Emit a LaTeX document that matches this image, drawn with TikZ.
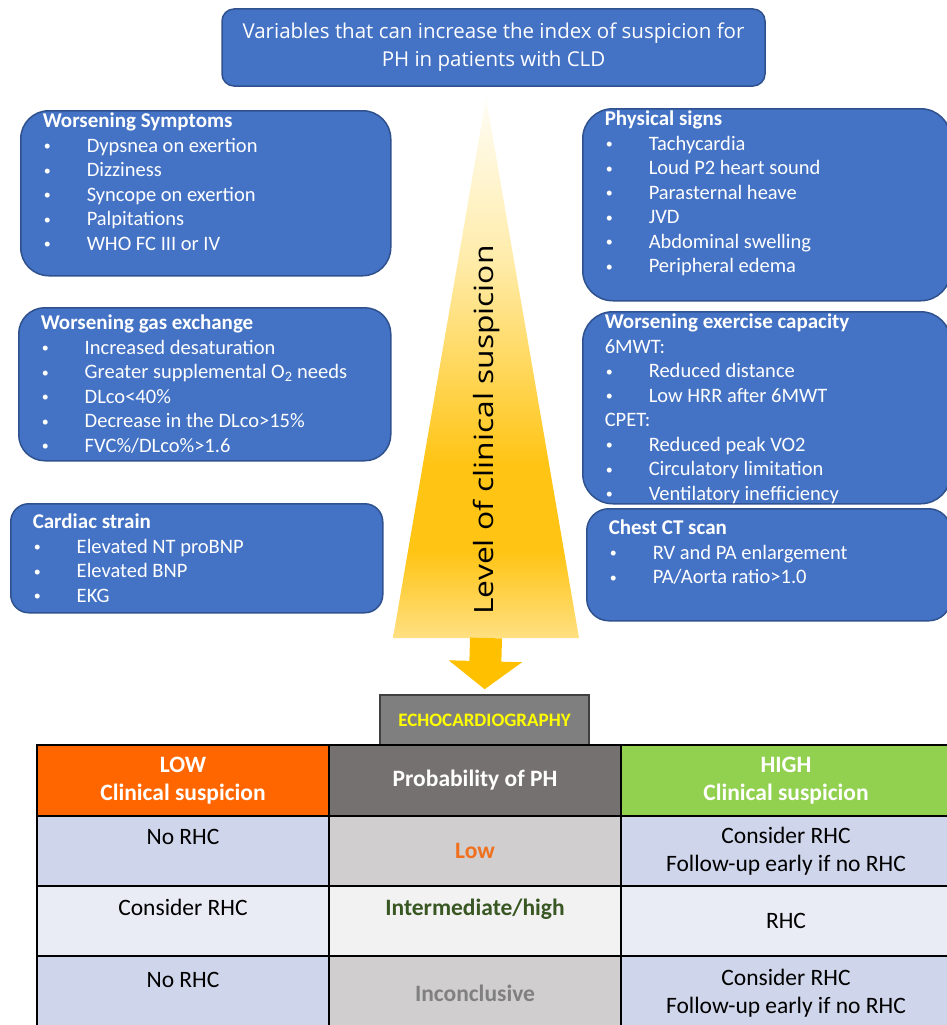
\documentclass[tikz,border=0pt]{standalone}
\usepackage{fontspec}
\setmainfont{Carlito}
\newfontfamily\headfont{Open Sans}
\newfontfamily\levelfont{Open Sans}[FakeStretch=1.2]
\usetikzlibrary{arrows.meta, positioning, calc}

\definecolor{boxblue}{RGB}{68, 114, 196}
\definecolor{boxedge}{RGB}{47, 82, 143}
\definecolor{lowor}{RGB}{255, 102, 0}
\definecolor{probgray}{RGB}{118, 113, 113}
\definecolor{highgreen}{RGB}{146, 208, 80}
\definecolor{rowblue}{RGB}{207, 213, 234}
\definecolor{rowpale}{RGB}{233, 235, 245}
\definecolor{rowgray}{RGB}{208, 206, 206}
\definecolor{rowwhite}{RGB}{242, 242, 242}
\definecolor{echogray}{RGB}{127, 127, 127}
\definecolor{echoedge}{RGB}{64, 64, 64}
\definecolor{echotext}{RGB}{255, 255, 0}
\definecolor{lowtext}{RGB}{240, 112, 30}
\definecolor{midtext}{RGB}{56, 87, 35}
\definecolor{inctext}{RGB}{128, 128, 128}
\definecolor{tritop}{RGB}{255, 253, 245}
\definecolor{trimid}{RGB}{255, 236, 170}
\definecolor{trideep}{RGB}{255, 196, 20}
\definecolor{tribot}{RGB}{255, 224, 130}
\definecolor{arrowyellow}{RGB}{255, 192, 0}

\pgfdeclareverticalshading{suspicion}{100bp}{color(0bp)=(tribot); color(25bp)=(tribot); color(33bp)=(trideep); color(41bp)=(trideep); color(60bp)=(trimid); color(75bp)=(tritop); color(100bp)=(tritop)}

\newcommand{\panel}[3]{\parbox[t][#2][t]{#1}{\leftskip=22pt #3}}
\newcommand{\bxtitle}[2]{\rule{0pt}{#1}{\fontsize{21}{24.5}\selectfont\textbf{#2}}}
\newcommand{\itm}[1]{\hspace*{1pt}\makebox[43pt][l]{\raisebox{1.5pt}{\fontsize{14}{14}\selectfont\textbullet}}#1}

\tikzset{
  varbox/.style={draw=boxedge, fill=boxblue, line width=1.5pt, rounded corners=26pt, inner sep=0pt, anchor=north west, text=white, font=\fontsize{20.5}{24.5}\selectfont},
  cell/.style={draw=black, line width=2pt, inner sep=0pt, outer sep=0pt, minimum width=292, align=center, font=\fontsize{23.5}{28}\selectfont},
  hdcell/.style={cell, text=white, font=\bfseries\fontsize{23.5}{28}\selectfont}
}

\begin{document}
\begin{tikzpicture}[x=1pt, y=-1pt]
  \useasboundingbox (0,0) rectangle (947,1025);
  \clip (0,0) rectangle (947,1025);

  % Triangle
  \coordinate (apex) at (486,98);
  \coordinate (baseL) at (393,638);
  \coordinate (baseR) at (579,638);
  \coordinate (basemid) at ($(baseL)!0.5!(baseR)$);
  \shade[shading=suspicion] (apex) -- (baseR) -- (baseL) -- cycle;
  \node[rotate=90, font=\levelfont\fontsize{26.5}{26.5}\selectfont] (level) at (487,430) {Level of clinical suspicion};

  % Title
  \node[draw=boxedge, fill=boxblue, line width=1.5pt, rounded corners=12pt, minimum width=543, minimum height=77, align=center, text=white, font=\headfont\fontsize{20.5}{28}\selectfont] (head) at (493.5,47.5) {
    Variables that can increase the index of suspicion for\\PH in patients with CLD
  };

  % Left column
  \node[varbox, rounded corners=28pt] (symp) at (20,110) {\panel{370pt}{165pt}{
    \bxtitle{17pt}{Worsening Symptoms}\\
    \itm{Dypsnea on exertion}\\
    \itm{Dizziness}\\
    \itm{Syncope on exertion}\\
    \itm{Palpitations}\\
    \itm{WHO FC III or IV}}};

  \node[varbox] (gas) at (18,307) {\panel{372pt}{153pt}{
    \bxtitle{22pt}{Worsening gas exchange}\\
    \itm{Increased desaturation}\\
    \itm{Greater supplemental O\textsubscript{2} needs}\\
    \itm{DLco<40\%}\\
    \itm{Decrease in the DLco>15\%}\\
    \itm{FVC\%/DLco\%>1.6}}};

  \node[varbox, rounded corners=18pt] (card) at (10,503) {\panel{372pt}{109pt}{
    \bxtitle{25pt}{Cardiac strain}\\
    \itm{Elevated NT proBNP}\\
    \itm{Elevated BNP}\\
    \itm{EKG}}};

  % Right column
  \node[varbox, rounded corners=30pt] (phys) at (582,108) {\panel{368pt}{192pt}{
    \bxtitle{17pt}{Physical signs}\\
    \itm{Tachycardia}\\
    \itm{Loud P2 heart sound}\\
    \itm{Parasternal heave}\\
    \itm{JVD}\\
    \itm{Abdominal swelling}\\
    \itm{Peripheral edema}}};

  \node[varbox, rounded corners=30pt] (exer) at (582,311) {\panel{368pt}{192pt}{
    \bxtitle{17pt}{Worsening exercise capacity}\\
    6MWT:\\
    \itm{Reduced distance}\\
    \itm{Low HRR after 6MWT}\\
    CPET:\\
    \itm{Reduced peak VO2}\\
    \itm{Circulatory limitation}\\
    \itm{Ventilatory inefficiency}}};

  \node[varbox, rounded corners=22pt] (ct) at (586,508) {\panel{364pt}{112pt}{
    \bxtitle{26pt}{Chest CT scan}\\
    \itm{RV and PA enlargement}\\
    \itm{PA/Aorta ratio>1.0}}};

  % Echo
  \node[draw=echoedge, fill=echogray, line width=1.5pt, minimum width=209, minimum height=50, text=echotext, font=\bfseries\fontsize{19}{19}\selectfont] (echo) at (484.5,720) {ECHOCARDIOGRAPHY};
  \draw[arrowyellow, line width=32pt, -{Triangle[length=28pt, width=72pt]}, shorten >=5pt] (basemid) -- (echo.north);

  % Table
  \node[hdcell, fill=lowor, minimum height=71, anchor=north west] (lowhd) at (37,745) {LOW\\Clinical suspicion};
  \node[hdcell, fill=probgray, minimum height=71, right=0pt of lowhd] (probhd) {Probability of PH};
  \node[hdcell, fill=highgreen, minimum height=71, minimum width=330, right=0pt of probhd] (highhd) {HIGH\\Clinical suspicion};

  \node[cell, fill=rowblue, minimum height=70, below=0pt of lowhd] (lowa) {No RHC\\\rule{0pt}{0pt}};
  \node[cell, fill=rowgray, minimum height=70, right=0pt of lowa, text=lowtext, font=\bfseries\fontsize{23.5}{28}\selectfont] (proba) {Low};
  \node[cell, fill=rowblue, minimum height=70, minimum width=330, right=0pt of proba] (higha) {Consider RHC\\Follow-up early if no RHC};

  \node[cell, fill=rowpale, minimum height=70, below=0pt of lowa] (lowb) {Consider RHC\\\rule{0pt}{0pt}};
  \node[cell, fill=rowwhite, minimum height=70, right=0pt of lowb, text=midtext, font=\bfseries\fontsize{23.5}{28}\selectfont] (probb) {Intermediate/high\\\rule{0pt}{0pt}};
  \node[cell, fill=rowpale, minimum height=70, minimum width=330, right=0pt of probb] (highb) {RHC};

  \node[cell, fill=rowblue, minimum height=75, below=0pt of lowb] (lowc) {No RHC\\\rule{0pt}{0pt}};
  \node[cell, fill=rowgray, minimum height=75, right=0pt of lowc, text=inctext, font=\bfseries\fontsize{23.5}{28}\selectfont] (probc) {Inconclusive};
  \node[cell, fill=rowblue, minimum height=75, minimum width=330, right=0pt of probc] (highc) {Consider RHC\\Follow-up early if no RHC};
\end{tikzpicture}
\end{document}
